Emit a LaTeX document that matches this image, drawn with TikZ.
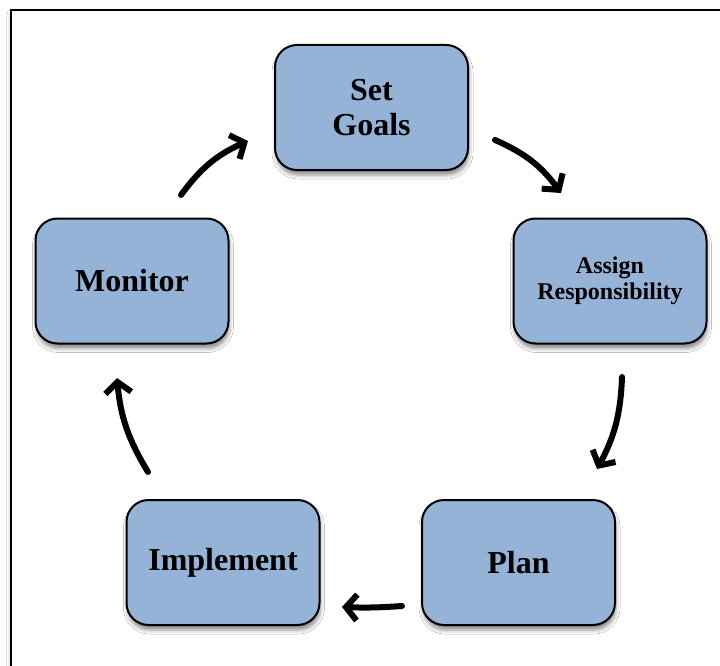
\documentclass[tikz,border=0pt]{standalone}
\usepackage{fontspec}
\setmainfont{Liberation Serif}
\usetikzlibrary{arrows.meta,shadows.blur}
\definecolor{boxblue}{HTML}{95B3D7}
\begin{document}
\begin{tikzpicture}[x=1pt,y=1pt,
    stage/.style={draw=black,line width=2pt,fill=boxblue,rounded corners=22pt,
      minimum width=193pt,minimum height=125pt,align=center,
      font=\bfseries\fontsize{32}{35}\selectfont,
      blur shadow={shadow xshift=1pt,shadow yshift=-5pt,shadow blur radius=4pt,shadow opacity=45}},
    cyc/.style={line width=6pt,line cap=round,-{Straight Barb[length=11pt,width=26pt]}}]
	    \useasboundingbox (0,0) rectangle (720,-666);
	    \clip (0,0) rectangle (720,-666);
	    \fill[white] (0,0) rectangle (720,-666);
	    \draw[line width=2.5pt,fill=white,blur shadow={shadow xshift=0pt,shadow yshift=-4pt,shadow blur radius=4pt,shadow opacity=30}] (11,-10) rectangle (760,-720);
	    % the five stages
	    \node[stage] (goals) at (371.5,-107.5) {Set\\Goals};
	    \node[stage,font=\bfseries\fontsize{24}{26}\selectfont] (assign) at (610,-281) {Assign\\Responsibility};
	    \node[stage] (plan) at (518.5,-562.5) {Plan};
	    \node[stage] (impl) at (223,-562.5) {Implement};
	    \node[stage] (mon) at (132,-281) {Monitor};
	    % arrow ends
	    \coordinate (m1) at (181,-195);
	    \coordinate (g0) at (248,-141);
	    \coordinate (g1) at (495,-140);
	    \coordinate (a0) at (561,-193);
	    \coordinate (a1) at (622,-377);
	    \coordinate (p0) at (597,-469);
	    \coordinate (p1) at (402,-606);
	    \coordinate (i0) at (342,-607);
	    \coordinate (i1) at (148,-472);
	    \coordinate (m0) at (117,-378);
	    \draw[cyc] (m1) to[bend left=15] (g0);
	    \draw[cyc] (g1) to[bend left=15] (a0);
	    \draw[cyc] (a1) to[bend left=13] (p0);
	    \draw[cyc] (p1) to[bend left=3] (i0);
	    \draw[cyc] (i1) to[bend left=13] (m0);
	\end{tikzpicture}
\end{document}
